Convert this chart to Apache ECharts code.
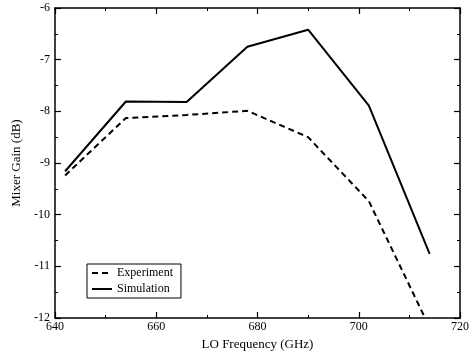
<!DOCTYPE html>
<html>
<head>
<meta charset="utf-8">
<script src="https://cdn.jsdelivr.net/npm/echarts@6/dist/echarts.min.js"></script>
<style>html,body{margin:0;padding:0;background:#fff;}#c{width:473px;height:356px;}</style>
</head>
<body>
<div id="c"></div>
<script>
var xTicks = [640, 660, 680, 700, 720];
var yTicks = [-12, -11, -10, -9, -8, -7, -6];
var expFreq = [642, 654, 666, 678, 690, 702, 713];
var expGain = [-9.24, -8.13, -8.07, -7.99, -8.5, -9.74, -11.98];
var simFreq = [642, 654, 666, 678, 690, 702, 714];
var simGain = [-9.16, -7.81, -7.82, -6.75, -6.42, -7.89, -10.76];

function pairs(xs, ys) { return xs.map(function (x, i) { return [x, ys[i]]; }); }
var font = 'Liberation Serif';
var ax = {
  axisLine: { show: true, lineStyle: { color: '#000', width: 1.5 } },
  axisTick: { show: true, inside: true, length: 6, lineStyle: { color: '#000', width: 1.2 } },
  minorTick: { show: true, splitNumber: 2, length: 3, lineStyle: { color: '#000', width: 1 } },
  splitLine: { show: false }
};
function merge(a, b) { var o = {}; for (var k in a) o[k] = a[k]; for (var k2 in b) o[k2] = b[k2]; return o; }

var chart = echarts.init(document.getElementById('c'));
chart.setOption({
  animation: false,
  backgroundColor: '#fff',
  grid: { left: 55, right: 13, top: 8, bottom: 35 },
  legend: {
    orient: 'vertical', left: 87, top: 264,
    itemWidth: 20, itemHeight: 10, itemGap: 4,
    padding: [3, 8, 3, 4],
    borderColor: '#000', borderWidth: 1,
    itemStyle: { opacity: 0 },
    textStyle: { fontFamily: font, fontSize: 12, color: '#000' },
    data: ['Experiment', 'Simulation']
  },
  xAxis: [
    merge(ax, {
      type: 'value', min: 640, max: 720, interval: 20, position: 'bottom',
      name: 'LO Frequency (GHz)', nameLocation: 'middle', nameGap: 20,
      nameTextStyle: { fontFamily: font, fontSize: 13, color: '#000' },
      axisLabel: { fontFamily: font, fontSize: 12, color: '#000', margin: 3,
        formatter: function (v) { return xTicks.indexOf(v) >= 0 ? String(v) : ''; } }
    }),
    merge(ax, { type: 'value', min: 640, max: 720, interval: 20, position: 'top', axisLabel: { show: false } })
  ],
  yAxis: [
    merge(ax, {
      type: 'value', min: -12, max: -6, interval: 1, position: 'left',
      name: 'Mixer Gain (dB)', nameLocation: 'middle', nameGap: 27,
      nameTextStyle: { fontFamily: font, fontSize: 13, color: '#000' },
      axisLabel: { fontFamily: font, fontSize: 12, color: '#000', margin: 5,
        formatter: function (v) { return yTicks.indexOf(v) >= 0 ? String(v) : ''; } }
    }),
    merge(ax, { type: 'value', min: -12, max: -6, interval: 1, position: 'right', axisLabel: { show: false } })
  ],
  series: [
    { name: 'Experiment', type: 'line', symbol: 'none', data: pairs(expFreq, expGain),
      lineStyle: { color: '#000', width: 2, type: [6, 4] }, itemStyle: { color: '#000' } },
    { name: 'Simulation', type: 'line', symbol: 'none', data: pairs(simFreq, simGain),
      lineStyle: { color: '#000', width: 2 }, itemStyle: { color: '#000' } }
  ]
});
</script>
</body>
</html>
